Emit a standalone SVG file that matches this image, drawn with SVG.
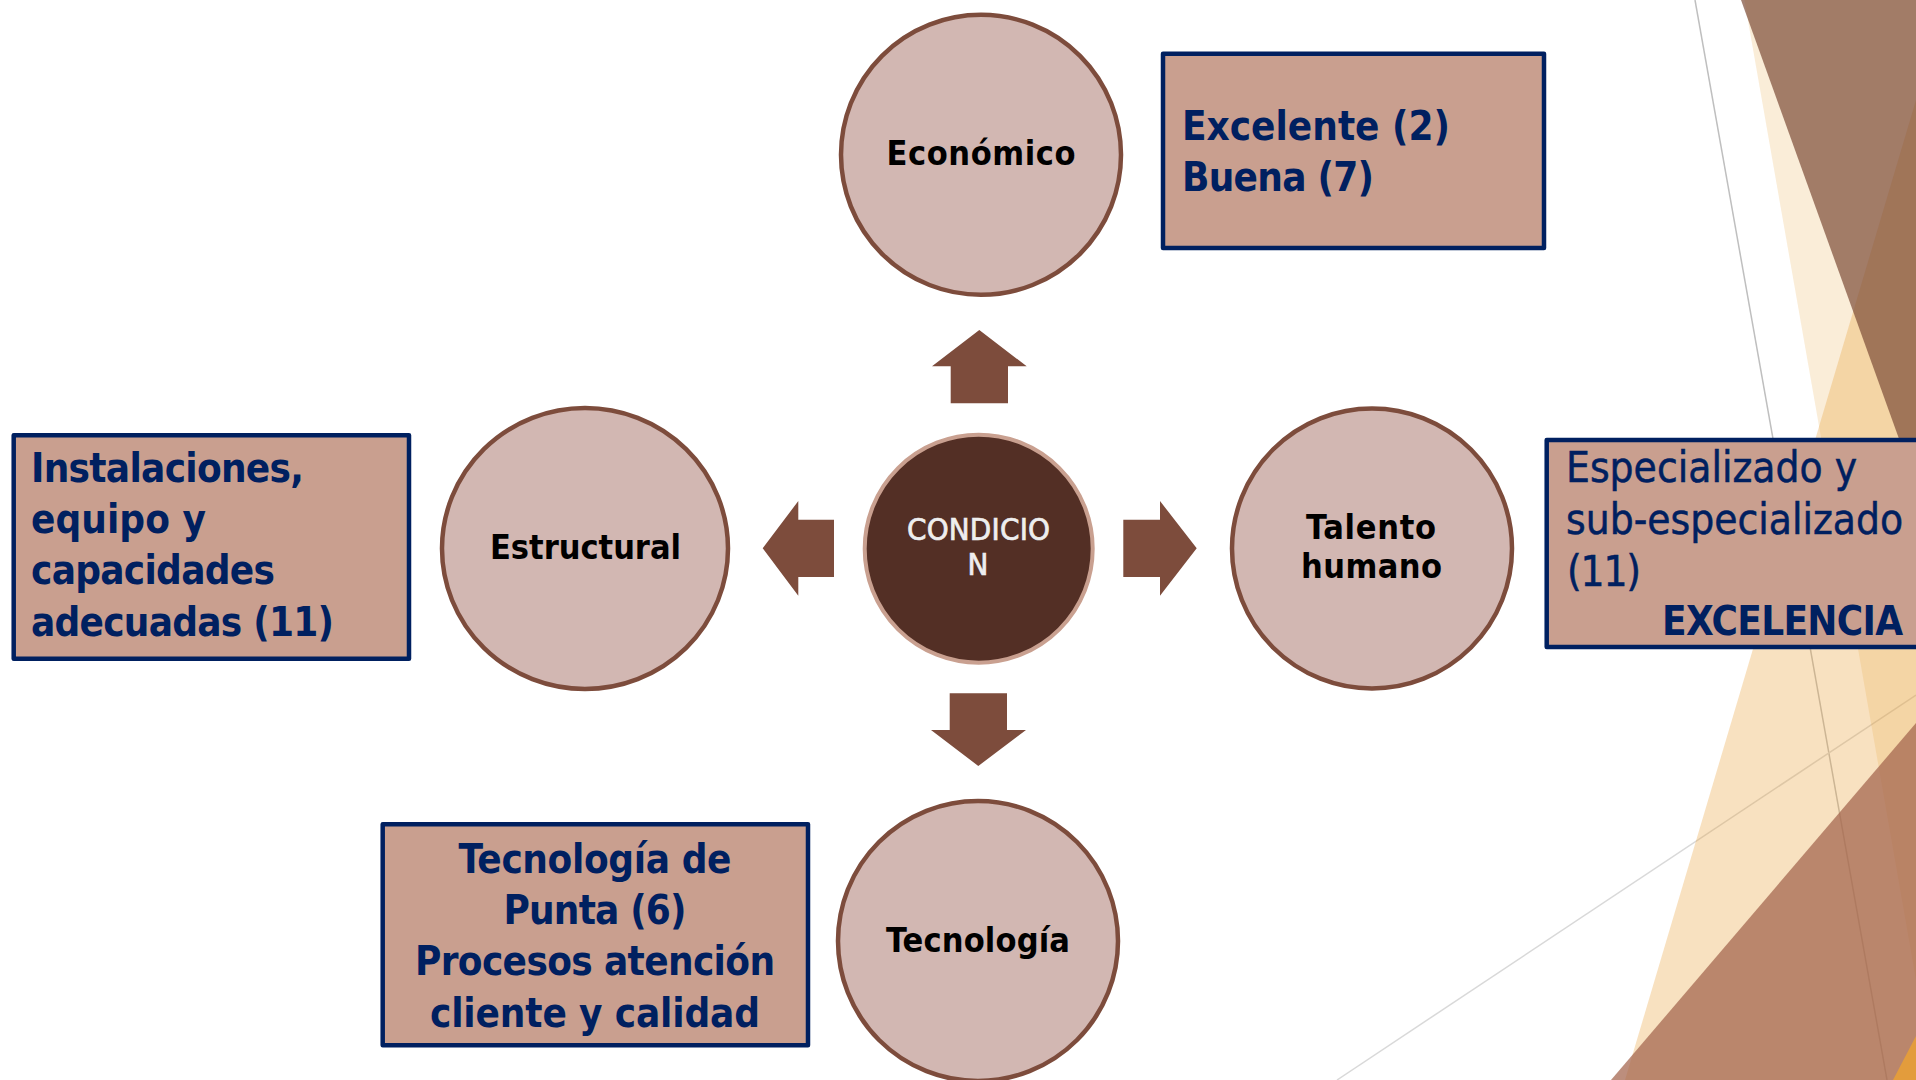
<svg xmlns="http://www.w3.org/2000/svg" width="1916" height="1080" viewBox="0 0 1916 1080">
  <style>
    text { font-family: "DejaVu Sans Condensed", "DejaVu Sans", sans-serif; }
    .rule1 { stroke: #bfbfbf; stroke-width: 1.5; fill: none; }
    .rule2 { stroke: #d9d9d9; stroke-width: 1.5; fill: none; }
    .circle { fill: #d2b7b2; stroke: #7d4c3c; stroke-width: 4.5; }
    .box { fill: #c99f8f; stroke: #002060; stroke-width: 4.5; stroke-linejoin: round; }
    .label { font-size: 34px; font-weight: 700; fill: #000; text-anchor: middle; }
    .note { font-size: 42px; fill: #002060; stroke: #002060; stroke-width: 0.5px; }
    .strong { font-size: 40px; font-weight: 700; stroke: none; }
    .arrow { fill: #7d4c3c; }
    .centre { font-size: 31px; fill: #eeeeee; text-anchor: middle; stroke: #eeeeee; stroke-width: 0.7px; }
  </style>
  <rect width="1916" height="1080" fill="#ffffff"/>

  <!-- Decorative facets along the right edge -->
  <g id="backdrop">
    <line class="rule1" x1="1695" y1="0" x2="1887" y2="1080"/>
    <line class="rule2" x1="1916" y1="695" x2="1337" y2="1080"/>
    <polygon points="1744.4,0 1916,980 1916,0" fill="#e8a33c" fill-opacity="0.2"/>
    <polygon points="1916,100 1625,1080 1916,1080" fill="#e8a33c" fill-opacity="0.32"/>
    <polygon points="1741,0 1916,486 1916,0" fill="#7c4b38" fill-opacity="0.7"/>
    <polygon points="1916,723 1611,1080 1916,1080" fill="#a3644d" fill-opacity="0.73"/>
    <polygon points="1916,1036 1893,1080 1916,1080" fill="#e39c3c"/>
  </g>

  <!-- Block arrows leaving the centre -->
  <g id="connectors">
    <polygon class="arrow" points="979.3,330 1026.7,366.3 1008,366.3 1008,403.3 950.7,403.3 950.7,366.3 932,366.3"/>
    <polygon class="arrow" points="978.3,766 1026,730 1007,730 1007,693.3 949.7,693.3 949.7,730 931,730"/>
    <polygon class="arrow" points="762.7,548.3 798.3,501 798.3,519.7 834,519.7 834,577 798.3,577 798.3,595.7"/>
    <polygon class="arrow" points="1196.7,548.3 1160,501 1160,519.7 1123.3,519.7 1123.3,577 1160,577 1160,595.7"/>
  </g>

  <g id="node-condicion">
    <circle cx="978.7" cy="548.7" r="114" fill="#532f25" stroke="#c9a090" stroke-width="4"/>
    <text class="centre" x="978.5" y="540" textLength="143">CONDICIO</text>
    <text class="centre" x="978" y="574.5">N</text>
  </g>

  <g id="node-economico">
    <circle class="circle" cx="981" cy="154.8" r="140"/>
    <text class="label" x="981" y="164.5" textLength="189">Económico</text>
  </g>
  <g id="node-estructural">
    <ellipse class="circle" cx="585" cy="548.5" rx="143" ry="140.5"/>
    <text class="label" x="585.5" y="558.5" textLength="191">Estructural</text>
  </g>
  <g id="node-talento">
    <circle class="circle" cx="1372" cy="548.5" r="140"/>
    <text class="label" x="1371" y="539" textLength="130">Talento</text>
    <text class="label" x="1371.5" y="578" textLength="141">humano</text>
  </g>
  <g id="node-tecnologia">
    <circle class="circle" cx="978" cy="941" r="140"/>
    <text class="label" x="978" y="951.5" textLength="184">Tecnología</text>
  </g>

  <g id="note-economico">
    <rect class="box" x="1163" y="53.7" width="381" height="194.3"/>
    <text class="note strong" x="1182" y="140" textLength="268">Excelente (2)</text>
    <text class="note strong" x="1182" y="191" textLength="192">Buena (7)</text>
  </g>
  <g id="note-estructural">
    <rect class="box" x="13.7" y="435.3" width="395.3" height="223.4"/>
    <text class="note strong" x="31" y="482" textLength="273">Instalaciones,</text>
    <text class="note strong" x="31" y="533" textLength="175">equipo y</text>
    <text class="note strong" x="31" y="584" textLength="244">capacidades</text>
    <text class="note strong" x="31" y="635.5" textLength="303">adecuadas (11)</text>
  </g>
  <g id="note-tecnologia">
    <rect class="box" x="382.7" y="824.3" width="425.3" height="221"/>
    <text class="note strong" x="595" y="873" text-anchor="middle" textLength="273">Tecnología de</text>
    <text class="note strong" x="595" y="924" text-anchor="middle" textLength="183">Punta (6)</text>
    <text class="note strong" x="595" y="975" text-anchor="middle" textLength="360">Procesos atención</text>
    <text class="note strong" x="595" y="1026.5" text-anchor="middle" textLength="330">cliente y calidad</text>
  </g>
  <g id="note-talento">
    <rect class="box" x="1546.7" y="440" width="375" height="207"/>
    <text class="note" x="1566" y="482" textLength="291">Especializado y</text>
    <text class="note" x="1566" y="534" textLength="337">sub-especializado</text>
    <text class="note" x="1567" y="586" textLength="74">(11)</text>
    <text class="note strong" x="1662" y="635" textLength="241">EXCELENCIA</text>
  </g>
</svg>
